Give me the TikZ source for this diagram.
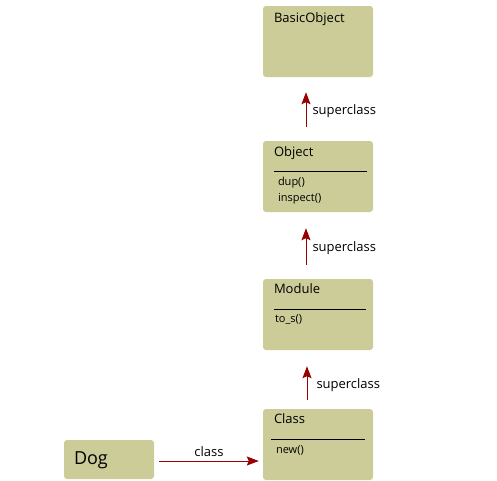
\documentclass[tikz,border=0pt]{standalone}
\usepackage{fontspec}
\setmainfont{Open Sans}
\usetikzlibrary{arrows.meta,positioning}
\definecolor{boxfill}{RGB}{204,204,153}
\definecolor{arrred}{RGB}{153,0,0}

\begin{document}
\begin{tikzpicture}[x=1pt, y=-1pt,
  cls/.style={fill=boxfill, draw=none, rounded corners=3pt, minimum width=110pt, minimum height=71pt, inner sep=0pt},
  title/.style={anchor=north west, inner sep=0pt, font=\fontsize{13}{15}\selectfont},
  meth/.style={anchor=north west, inner sep=0pt, align=left, font=\fontsize{11}{16}\selectfont},
  sep/.style={black, line width=0.8pt},
  arr/.style={-{Stealth[length=12pt, width=9pt, inset=2pt]}, arrred, line width=1pt},
  lab/.style={text=black, font=\fontsize{13}{15}\selectfont, inner sep=0pt}]
  \useasboundingbox (0,0) rectangle (497,480);
  % class boxes
  \node[cls] (basic) at (318,41.5) {};
  \node[cls] (obj) at (318,176.5) {};
  \node[cls] (mod) at (318,314.5) {};
  \node[cls] (klass) at (318,444.5) {};
  \node[cls, minimum width=90pt, minimum height=39pt] (dog) at (109,459.5) {};
  % titles
  \node[title] (basict) at ([xshift=11pt,yshift=-7pt]basic.north west) {BasicObject};
  \node[title] (objt) at ([xshift=11pt,yshift=-6pt]obj.north west) {Object};
  \node[title] (modt) at ([xshift=11pt,yshift=-5pt]mod.north west) {Module};
  \node[title] (klasst) at ([xshift=11pt,yshift=-5pt]klass.north west) {Class};
  \node[anchor=west, inner sep=0pt, font=\fontsize{18}{20}\selectfont] (dogt) at ([xshift=10pt,yshift=-1pt]dog.west) {Dog};
  % separators and methods
  \draw[sep] ([xshift=11pt,yshift=-31pt]obj.north west) -- ([xshift=-6pt,yshift=-31pt]obj.north east);
  \node[meth] (objm) at ([xshift=15pt,yshift=-36pt]obj.north west) {dup()\\inspect()};
  \draw[sep] ([xshift=11pt,yshift=-31pt]mod.north west) -- ([xshift=-7pt,yshift=-31pt]mod.north east);
  \node[meth] (modm) at ([xshift=12pt,yshift=-36pt]mod.north west) {to\_s()};
  \draw[sep] ([xshift=8pt,yshift=-31pt]klass.north west) -- ([xshift=-8pt,yshift=-31pt]klass.north east);
  \node[meth] (klassm) at ([xshift=13pt,yshift=-37pt]klass.north west) {new()};
  % superclass links
  \draw[arr] ([xshift=-12pt,yshift=14pt]obj.north) -- node[lab, right=6pt, yshift=-2pt]{superclass} ([xshift=-12pt,yshift=-15pt]basic.south);
  \draw[arr] ([xshift=-12pt,yshift=14pt]mod.north) -- node[lab, right=6pt, yshift=-2pt]{superclass} ([xshift=-12pt,yshift=-16pt]obj.south);
  \draw[arr] ([xshift=-11pt,yshift=9pt]klass.north) -- node[lab, right=9pt, yshift=-2pt]{superclass} ([xshift=-11pt,yshift=-16pt]mod.south);
  % instance link
  \draw[arr] ([xshift=5pt,yshift=-1.5pt]dog.east) -- node[lab, above=4pt]{class} ([xshift=-4pt,yshift=-1.5pt]dog.east -| klass.west);
\end{tikzpicture}
\end{document}
